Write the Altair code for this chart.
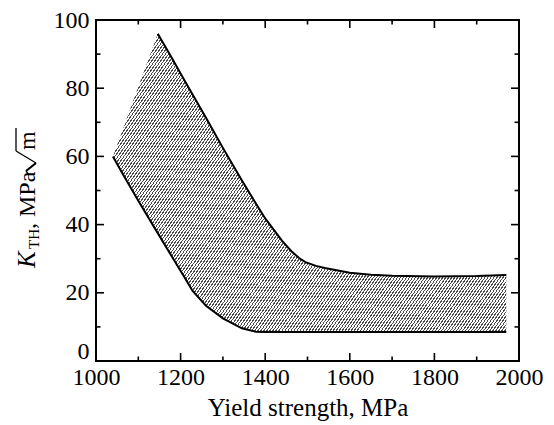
import math
import altair as alt
import pandas as pd

# ---- data ----
band_x = [1040, 1065, 1100, 1146, 1180, 1212, 1228, 1260, 1300, 1345, 1378, 1400,
          1440, 1462, 1480, 1495, 1520, 1541, 1600, 1650, 1700, 1800, 1900, 1970]
upper_y = [60, 68.5, 80.4, 96, 88.7, 81.7, 78.2, 71.3, 62.5, 52.9, 46.2, 41.8,
           35.2, 32.2, 30.2, 29.0, 27.9, 27.3, 25.9, 25.3, 25.0, 24.8, 24.9, 25.2]
lower_y = [60, 54.5, 47, 37.5, 30.5, 24, 20.6, 16.2, 12.5, 9.6, 8.6, 8.5,
           8.5, 8.5, 8.5, 8.5, 8.5, 8.5, 8.5, 8.5, 8.5, 8.5, 8.5, 8.5]
upper_line_start = 1146

x_major = [1000, 1200, 1400, 1600, 1800, 2000]
x_minor = [1100, 1300, 1500, 1700, 1900]
y_major = [0, 20, 40, 60, 80, 100]
y_minor = [10, 30, 50, 70, 90]

W, H = 423, 341
FONT = "Liberation Serif"

band = pd.DataFrame({"x": band_x, "upper": upper_y, "lower": lower_y})
xs = alt.Scale(domain=[1000, 2000], nice=False, zero=False)
ys = alt.Scale(domain=[0, 100], nice=False, zero=False)

# ---- hatch as a striped linear gradient ----
bw = (max(band_x) - min(band_x)) / 1000 * W
bh = (max(upper_y) - min(lower_y)) / 100 * H
ang = math.radians(55)
nx, ny = math.sin(ang), math.cos(ang)
L = nx * bw + ny * bh
cx, cy = nx * bw / L, ny * bh / L
c2 = cx * cx + cy * cy
gx2, gy2 = cx / c2, cy / c2
period = 3.0 * math.sin(ang)
n = int(L / period)
dark, light, frac = "#4a4a4a", "#ffffff", 0.4
stops = []
for k in range(n):
    a = round(k / n, 6)
    b = round((k + frac) / n, 6)
    c = round((k + 1) / n, 6)
    stops += [{"offset": a, "color": dark}, {"offset": b, "color": dark},
              {"offset": b, "color": light}, {"offset": c, "color": light}]
hatch = {"gradient": "linear", "x1": 0, "y1": 0, "x2": gx2, "y2": gy2, "stops": stops}

x_axis = alt.Axis(values=x_major, format="d", labelPadding=4, labelFlush=False,
                  labelOverlap=False, title="Yield strength, MPa", titlePadding=6,
                  titleFontSize=25)
y_axis = alt.Axis(values=y_major, format="d", labelPadding=7, labelOverlap=False, title=None,
                  labelOffset=alt.condition(alt.datum.value == 0, alt.value(-10), alt.value(0)))

base = alt.Chart(band)
area = base.mark_area(fill=hatch, interpolate="linear").encode(
    x=alt.X("x:Q", scale=xs, axis=x_axis),
    y=alt.Y("upper:Q", scale=ys, axis=y_axis),
    y2="lower:Q",
)
upper_line = base.transform_filter(alt.datum.x >= upper_line_start).mark_line(
    color="black", strokeWidth=2).encode(x=alt.X("x:Q", scale=xs), y=alt.Y("upper:Q", scale=ys))
lower_line = base.mark_line(color="black", strokeWidth=2).encode(
    x=alt.X("x:Q", scale=xs), y=alt.Y("lower:Q", scale=ys))


def xticks(vals, y0, y1):
    return alt.Chart(pd.DataFrame({"v": vals})).mark_rule(color="black", strokeWidth=1.6).encode(
        x=alt.X("v:Q", scale=xs), y=alt.value(y0), y2=alt.value(y1))


def yticks(vals, x0, x1):
    return alt.Chart(pd.DataFrame({"v": vals})).mark_rule(color="black", strokeWidth=1.6).encode(
        y=alt.Y("v:Q", scale=ys), x=alt.value(x0), x2=alt.value(x1))


MAJ, MIN = 8, 4.5
ticks = [
    xticks(x_major, H, H - MAJ), xticks(x_minor, H, H - MIN),
    xticks(x_major, 0, MAJ), xticks(x_minor, 0, MIN),
    yticks(y_major, 0, MAJ), yticks(y_minor, 0, MIN),
    yticks(y_major, W, W - MAJ), yticks(y_minor, W, W - MIN),
]

one = pd.DataFrame({"k": [0]})


def ytitle(text, x, y, size, style="normal"):
    return alt.Chart(one).mark_text(text=text, angle=270, align="left", baseline="alphabetic",
                                    font=FONT, fontSize=size, fontStyle=style, color="black").encode(
        x=alt.value(x), y=alt.value(y))


def seg(x0, y0, x1, y1, w=1.4):
    return alt.Chart(one).mark_rule(color="black", strokeWidth=w).encode(
        x=alt.value(x0), y=alt.value(y0), x2=alt.value(x1), y2=alt.value(y1))


title_parts = [
    ytitle("K", -61, 248, 25, "italic"),
    ytitle("TH", -57, 229, 15),
    ytitle(", MPa", -61, 209, 24),
    ytitle("m", -61, 130, 24),
]
# radical sign drawn as strokes (rotated with the title)
radical = [
    seg(-67, 155, -70, 151, 1.3),
    seg(-70, 151, -60, 143, 2.2),
    seg(-60, 143, -80, 131, 1.3),
    seg(-80, 131, -80, 108, 1.3),
]

chart = alt.layer(area, upper_line, lower_line, *ticks, *title_parts, *radical).properties(
    width=W, height=H,
    autosize=alt.AutoSizeParams(type="none"),
    padding={"left": 96, "top": 20, "right": 35, "bottom": 64},
).configure_view(stroke="black", strokeWidth=2).configure_axis(
    labelFont=FONT, labelFontSize=24, labelColor="black", titleFont=FONT, titleFontSize=25,
    titleFontWeight="normal", titleColor="black", grid=False, ticks=False, tickSize=0, domain=False,
)

chart.save("out.html", embed_options={"renderer": "svg", "actions": False})
